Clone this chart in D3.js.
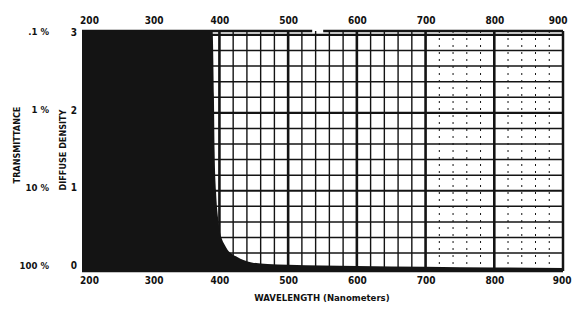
<!DOCTYPE html>
<html lang="en">

<head>
    <meta charset="UTF-8">
    <title>Diffuse density vs wavelength</title>
    <script src="https://d3js.org/d3.v7.min.js"></script>
    <style>
        body,
        html {
            margin: 0;
            background: #fff;
            overflow: hidden;
        }

        text {
            font-family: "DejaVu Sans", sans-serif;
            font-stretch: condensed;
            font-weight: bold;
            fill: #111;
        }
    </style>
</head>

<body>
    <svg id="chart" width="573" height="309"></svg>
    <script>
        // tick values / labels
        var wlTicks = [200, 300, 400, 500, 600, 700, 800, 900];
        var densityTicks = [0, 1, 2, 3];
        var transLabels = ["100 %", "10 %", "1 %", ".1 %"];

        // absorption curve
        var wavelength = [200, 390, 392, 393, 395, 398, 401, 404, 408, 412, 418, 426, 435, 447, 470, 500, 600, 700, 800, 900];
        var density = [3.05, 3.05, 2.2, 1.5, 1.0, 0.65, 0.46, 0.37, 0.3, 0.24, 0.19, 0.15, 0.11, 0.08, 0.06, 0.05, 0.035, 0.025, 0.015, 0.01];

        var svg = d3.select("#chart");
        var ink = "#141414";

        var x = d3.scaleLinear().domain([200, 900]).range([82, 563]);
        var y = d3.scaleLinear().domain([-0.03, 3.05]).range([271, 31]);

        // grid
        var grid = svg.append("g");
        var hLines = d3.range(0.2, 3.01, 0.2);
        grid.selectAll("line.h").data(hLines).enter().append("line")
            .attr("x1", x(200)).attr("x2", x(900))
            .attr("y1", d => y(d)).attr("y2", d => y(d))
            .attr("stroke", ink)
            .attr("stroke-width", d => Math.abs(d - Math.round(d)) < 0.01 ? 2.2 : 1.5);

        var vLines = d3.range(400, 900, 20);
        grid.selectAll("line.v").data(vLines).enter().append("line")
            .attr("x1", d => x(d)).attr("x2", d => x(d))
            .attr("y1", y(3.05)).attr("y2", y(-0.03))
            .attr("stroke", ink)
            .attr("stroke-width", d => d % 100 === 0 ? 2.6 : (d > 700 ? 1 : 1.4))
            .attr("stroke-dasharray", d => (d > 700 && d % 100 !== 0) ? "2,5" : null);

        // black absorption area
        var pts = wavelength.map((w, i) => [w, density[i]]);
        svg.append("path")
            .datum(pts)
            .attr("fill", ink)
            .attr("d", d3.area()
                .x(d => x(d[0]))
                .y0(y(-0.03))
                .y1(d => y(d[1]))
                .curve(d3.curveMonotoneX));

        // frame: top with a small break, right, bottom
        var frame = svg.append("g").attr("stroke", ink).attr("fill", "none");
        frame.append("line").attr("x1", x(200)).attr("x2", x(535)).attr("y1", y(3.05)).attr("y2", y(3.05)).attr("stroke-width", 2.5);
        frame.append("line").attr("x1", x(551)).attr("x2", x(900)).attr("y1", y(3.05)).attr("y2", y(3.05)).attr("stroke-width", 2.5);
        frame.append("line").attr("x1", x(900)).attr("x2", x(900)).attr("y1", y(3.05)).attr("y2", y(-0.03)).attr("stroke-width", 2.5);
        frame.append("line").attr("x1", x(200)).attr("x2", x(900)).attr("y1", y(-0.03)).attr("y2", y(-0.03)).attr("stroke-width", 2.5);

        // wavelength axes
        var topAxis = svg.append("g")
            .attr("transform", "translate(0," + y(3.05) + ")")
            .call(d3.axisTop(x).tickValues(wlTicks).tickSize(0).tickPadding(7));
        var bottomAxis = svg.append("g")
            .attr("transform", "translate(0," + y(-0.03) + ")")
            .call(d3.axisBottom(x).tickValues(wlTicks).tickSize(0).tickPadding(6));
        [topAxis, bottomAxis].forEach(function (g) {
            g.select(".domain").remove();
            g.selectAll("text").attr("font-size", 10).attr("font-family", null)
                .attr("dx", d => d === 200 ? 7 : (d === 300 ? 3 : 0));
        });
        topAxis.selectAll("text").filter(d => d === 900).attr("text-anchor", "end").attr("dx", 4);
        bottomAxis.selectAll("text").filter(d => d === 900).attr("text-anchor", "end").attr("dx", 8);

        // density axis
        var leftAxis = svg.append("g")
            .attr("transform", "translate(" + x(200) + ",-3)")
            .call(d3.axisLeft(y).tickValues(densityTicks).tickFormat(d3.format("d")).tickSize(0).tickPadding(5));
        leftAxis.select(".domain").remove();
        leftAxis.selectAll("text").attr("font-size", 10).attr("font-family", null);

        // transmittance labels
        svg.append("g").selectAll("text").data(densityTicks).enter().append("text")
            .attr("x", 49)
            .attr("y", d => y(d) - 3)
            .attr("dy", "0.32em")
            .attr("text-anchor", "end")
            .attr("font-size", 9.5)
            .text((d, i) => transLabels[i]);

        // axis titles
        svg.append("text")
            .attr("transform", "translate(20,145) rotate(-90)")
            .attr("text-anchor", "middle")
            .attr("font-size", 9)
            .text("TRANSMITTANCE");
        svg.append("text")
            .attr("transform", "translate(66,150) rotate(-90)")
            .attr("text-anchor", "middle")
            .attr("font-size", 9)
            .text("DIFFUSE DENSITY");
        svg.append("text")
            .attr("x", 322)
            .attr("y", 301)
            .attr("text-anchor", "middle")
            .attr("font-size", 9.5)
            .text("WAVELENGTH (Nanometers)");
    </script>
</body>
</html>
